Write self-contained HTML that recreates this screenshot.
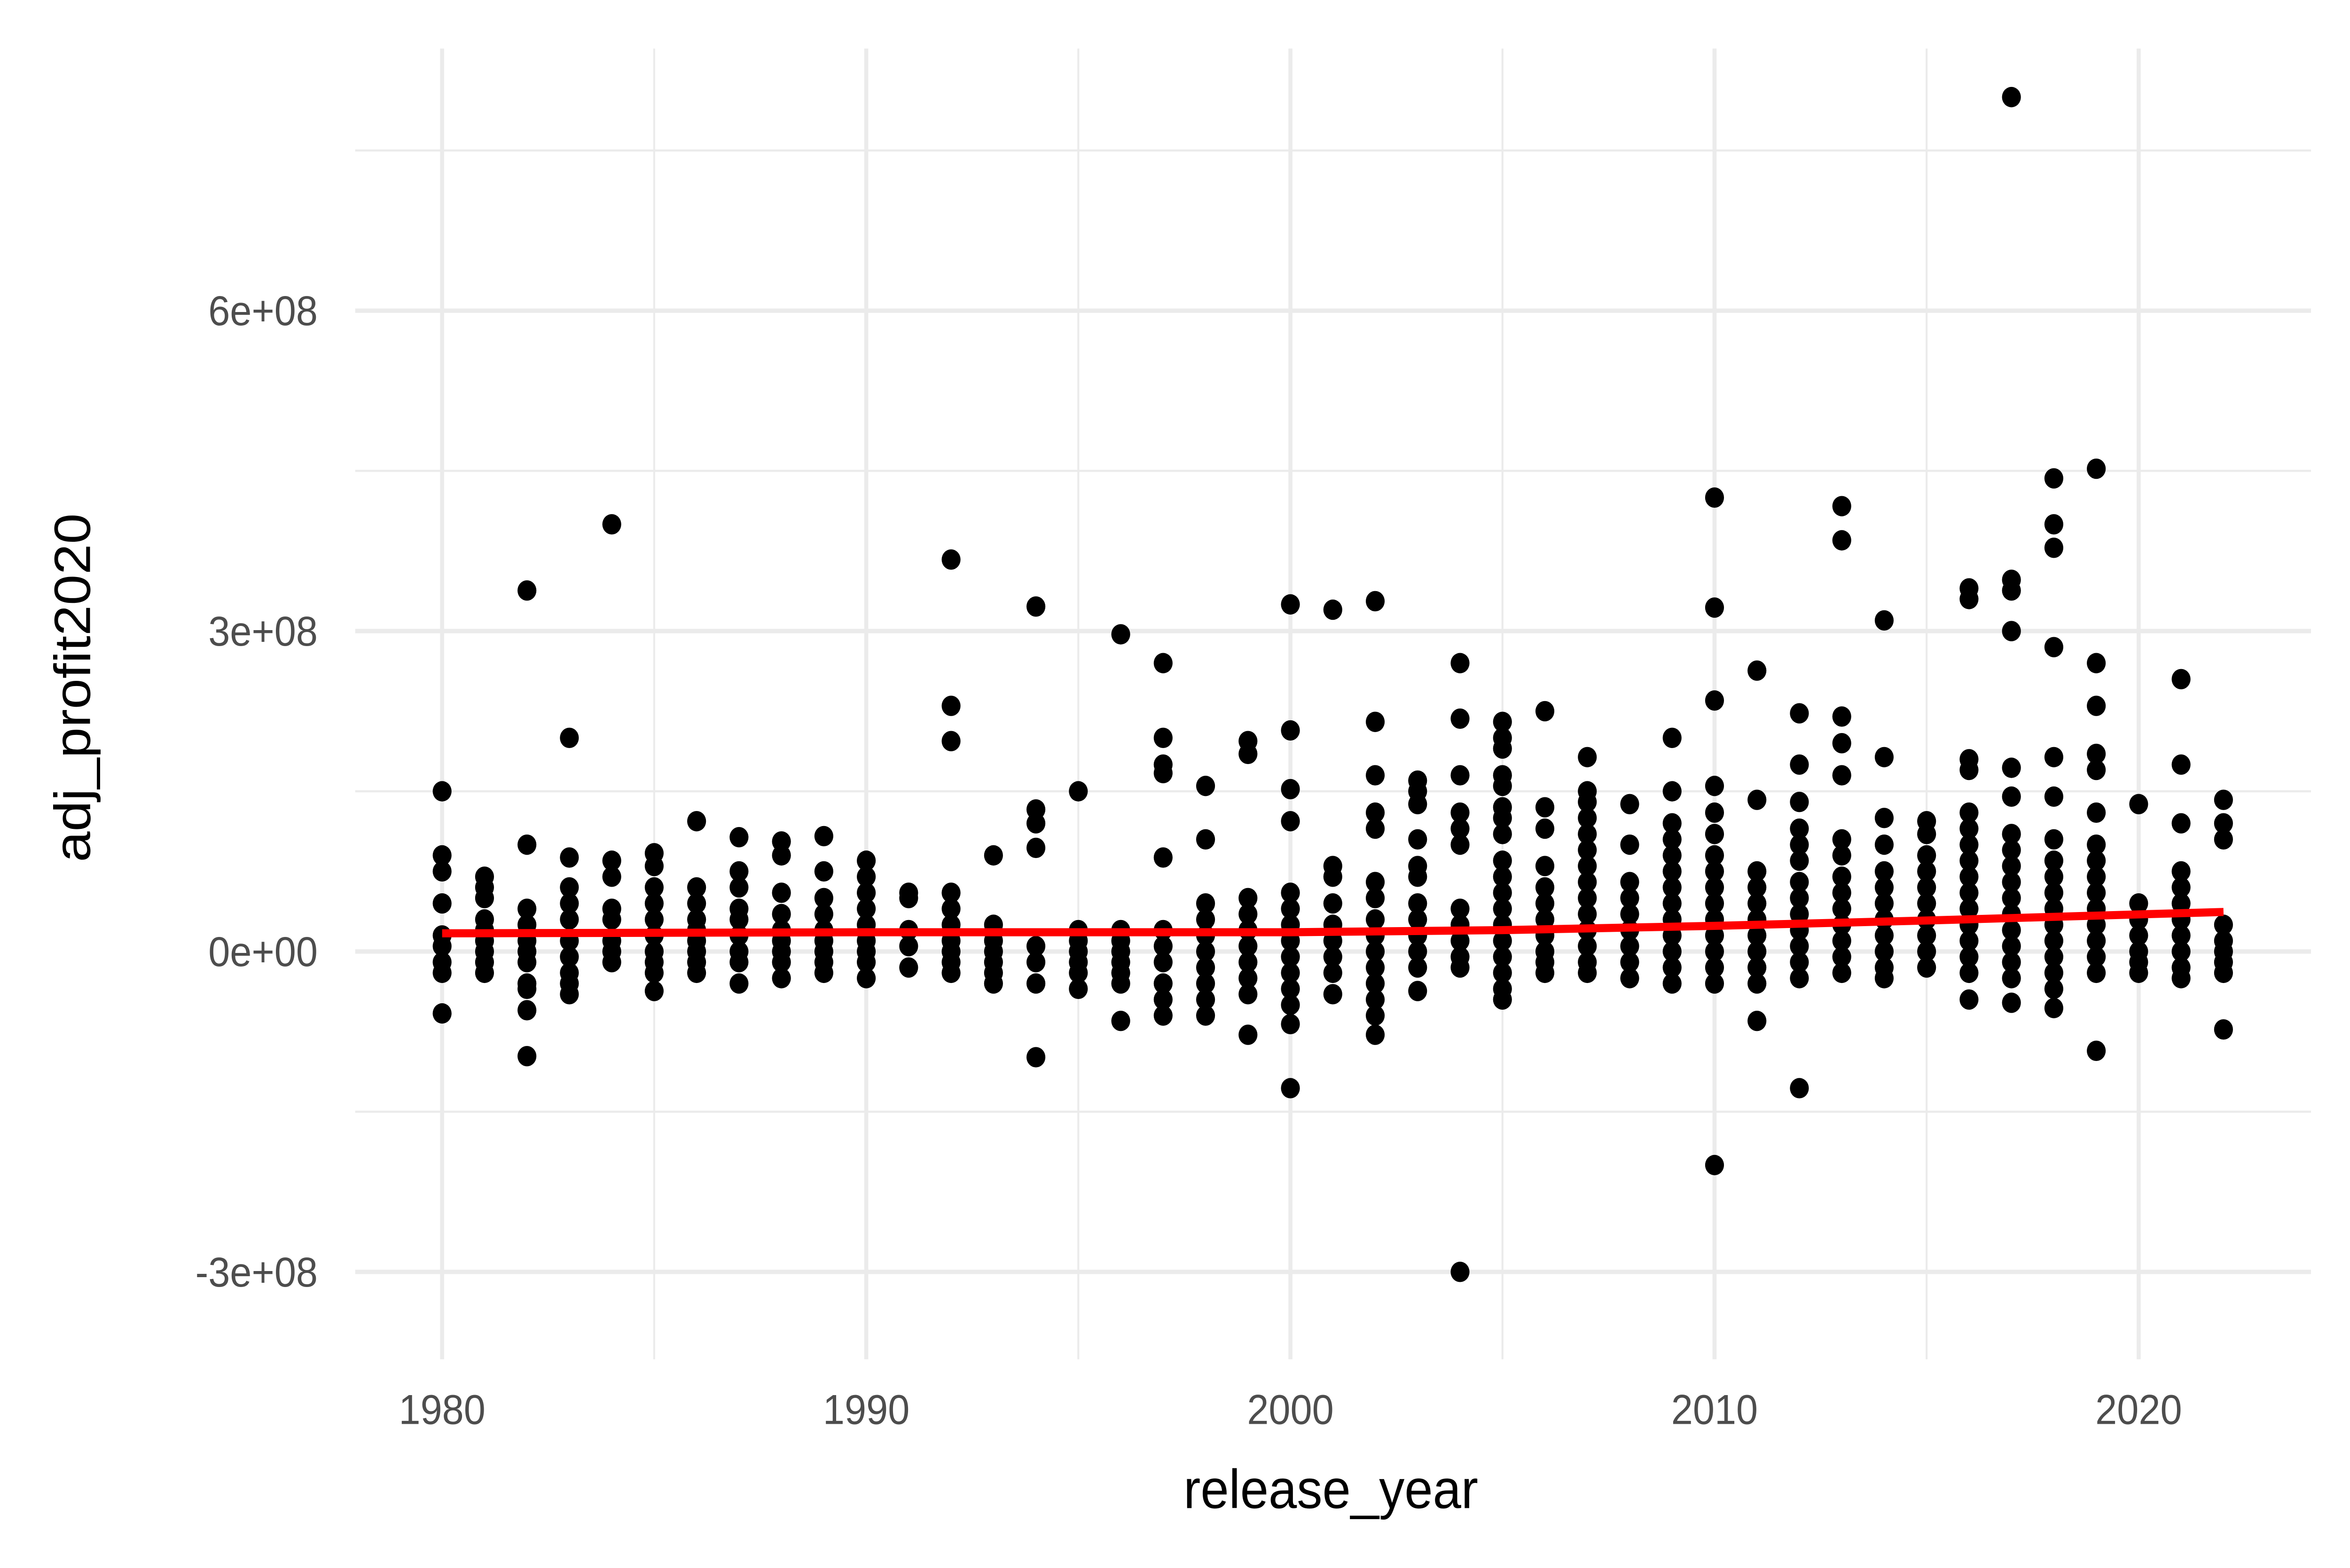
<!DOCTYPE html>
<html><head><meta charset="utf-8"><style>
html,body{margin:0;padding:0;background:#fff;width:100%;height:100%;overflow:hidden;}
svg{display:block;position:absolute;left:0;top:0;width:100vw;height:100vh;}
</style></head><body>
<svg viewBox="0 0 1568 969" preserveAspectRatio="none" xmlns="http://www.w3.org/2000/svg" font-family="Liberation Sans, Arial, sans-serif">
<rect width="1568" height="969" fill="#fff"/>
<g id="grid"></g>
<g id="points"></g>
<g id="trend"></g>
<g id="axes"></g>
<text x="888" y="932" font-size="34" text-anchor="middle" fill="#000">release_year</text>
<text transform="translate(60,425) rotate(-90)" font-size="34" text-anchor="middle" fill="#000">adj_profit2020</text>
</svg>
<script>
const years = [1980,1981,1982,1983,1984,1985,1986,1987,1988,1989,1990,1991,1992,1993,1994,1995,1996,1997,1998,1999,2000,2001,2002,2003,2004,2005,2006,2007,2008,2009,2010,2011,2012,2013,2014,2015,2016,2017,2018,2019,2020,2021,2022];
// values in units of 1e8
const profits = [
[1.5,0.9,0.75,0.45,0.15,0.05,-0.1,-0.2,-0.58],
[0.7,0.6,0.5,0.3,0.2,0.1,0,-0.1,-0.2],
[3.38,1.0,0.4,0.25,0.1,0,-0.1,-0.3,-0.35,-0.55,-0.98],
[2.0,0.88,0.6,0.45,0.3,0.1,-0.05,-0.2,-0.3,-0.4],
[4.0,0.85,0.7,0.4,0.3,0.1,0,-0.1],
[0.92,0.8,0.6,0.45,0.3,0.15,0,-0.1,-0.2,-0.37],
[1.22,0.6,0.45,0.3,0.2,0.1,0,-0.1,-0.2],
[1.07,0.75,0.6,0.4,0.3,0.15,0,-0.1,-0.3],
[1.03,0.9,0.55,0.35,0.2,0.1,0,-0.1,-0.25],
[1.08,0.75,0.5,0.35,0.2,0.1,0,-0.1,-0.2],
[0.85,0.7,0.55,0.4,0.25,0.1,0,-0.1,-0.25],
[0.55,0.5,0.2,0.05,-0.15],
[3.67,2.3,1.97,0.55,0.4,0.25,0.1,0,-0.1,-0.2],
[0.9,0.25,0.1,0,-0.1,-0.2,-0.3],
[3.23,1.33,1.2,0.97,0.05,-0.1,-0.3,-0.99],
[1.5,0.2,0.1,0,-0.1,-0.2,-0.35],
[2.97,0.2,0.1,0,-0.1,-0.2,-0.3,-0.65],
[2.7,2.0,1.75,1.67,0.88,0.2,0.05,-0.1,-0.3,-0.45,-0.6],
[1.55,1.05,0.45,0.3,0.15,0,-0.15,-0.3,-0.45,-0.6],
[1.97,1.85,0.5,0.35,0.2,0.05,-0.1,-0.25,-0.4,-0.78],
[3.25,2.07,1.52,1.22,0.55,0.4,0.25,0.1,-0.05,-0.2,-0.35,-0.5,-0.68,-1.28],
[3.2,0.8,0.7,0.45,0.25,0.1,-0.05,-0.2,-0.4],
[3.28,2.15,1.65,1.3,1.15,0.65,0.5,0.3,0.15,0,-0.15,-0.3,-0.45,-0.6,-0.78],
[1.6,1.5,1.38,1.05,0.8,0.7,0.45,0.3,0.15,0,-0.15,-0.37],
[2.7,2.18,1.65,1.3,1.15,1.0,0.4,0.25,0.1,-0.05,-0.15,-3.0],
[2.15,2.0,1.9,1.65,1.55,1.35,1.25,1.1,0.85,0.7,0.55,0.4,0.25,0.1,-0.05,-0.2,-0.35,-0.45],
[2.25,1.35,1.15,0.8,0.6,0.45,0.3,0.15,0,-0.1,-0.2],
[1.82,1.5,1.4,1.25,1.1,0.95,0.8,0.65,0.5,0.35,0.2,0.05,-0.1,-0.2],
[1.38,1.0,0.65,0.5,0.35,0.2,0.05,-0.1,-0.25],
[2.0,1.5,1.2,1.05,0.9,0.75,0.6,0.45,0.3,0.15,0,-0.15,-0.3],
[4.25,3.22,2.35,1.55,1.3,1.1,0.9,0.75,0.6,0.45,0.3,0.15,0,-0.15,-0.3,-2.0],
[2.63,1.42,0.75,0.6,0.45,0.3,0.15,0,-0.15,-0.3,-0.65],
[2.23,1.75,1.4,1.15,1.0,0.85,0.65,0.5,0.35,0.2,0.05,-0.1,-0.25,-1.28],
[4.17,3.85,2.2,1.95,1.65,1.05,0.9,0.7,0.55,0.4,0.25,0.1,-0.05,-0.2],
[3.1,1.82,1.25,1.0,0.75,0.6,0.45,0.3,0.15,0,-0.15,-0.25],
[1.22,1.1,0.9,0.75,0.6,0.45,0.3,0.15,0,-0.15],
[3.4,3.3,1.8,1.7,1.3,1.15,1.0,0.85,0.7,0.55,0.4,0.25,0.1,-0.05,-0.2,-0.45],
[8.0,3.48,3.38,3.0,1.72,1.45,1.1,0.95,0.8,0.65,0.5,0.35,0.2,0.05,-0.1,-0.25,-0.48],
[4.43,4.0,3.78,2.85,1.82,1.45,1.05,0.85,0.7,0.55,0.4,0.25,0.1,-0.05,-0.2,-0.35,-0.53],
[4.52,2.7,2.3,1.85,1.7,1.3,1.0,0.85,0.7,0.55,0.4,0.25,0.1,-0.05,-0.2,-0.93],
[1.38,0.45,0.3,0.15,0,-0.1,-0.2],
[2.55,1.75,1.2,0.75,0.6,0.45,0.3,0.15,0,-0.15,-0.25],
[1.42,1.2,1.05,0.25,0.1,0,-0.1,-0.2,-0.73]
];
const trendYears = [1980,1990,2000,2005,2010,2015,2022];
const trendValues = [0.17,0.18,0.18,0.2,0.24,0.29,0.37];
const xMajor = [1980,1990,2000,2010,2020];
const xMinor = [1985,1995,2005,2015];
const yMajor = [-3,0,3,6];
const yMinor = [-1.5,1.5,4.5,7.5];
const yLabels = ["-3e+08","0e+00","3e+08","6e+08"];

const NS="http://www.w3.org/2000/svg";
const X0=237,X1=1542,Y0=30,Y1=840;
const xs=y=>295+(y-1980)*(1427-295)/40;
const ys=v=>588-v*66;
function mk(tag,attrs,parent){const e=document.createElementNS(NS,tag);for(const k in attrs)e.setAttribute(k,attrs[k]);parent.appendChild(e);return e;}
const grid=document.getElementById('grid'),pts=document.getElementById('points'),tr=document.getElementById('trend'),ax=document.getElementById('axes');
xMinor.forEach(v=>{const l=mk('line',{x1:xs(v),x2:xs(v),y1:Y0,y2:Y1,stroke:'#ebebeb','stroke-width':1.3},grid);

});
yMinor.forEach(v=>{const l=mk('line',{x1:X0,x2:X1,y1:ys(v),y2:ys(v),stroke:'#ebebeb','stroke-width':1.3},grid);

});
xMajor.forEach(v=>{const l=mk('line',{x1:xs(v),x2:xs(v),y1:Y0,y2:Y1,stroke:'#ebebeb','stroke-width':2.7},grid);


const t=mk('text',{x:xs(v),y:880,'font-size':26,'text-anchor':'middle',fill:'#4d4d4d'},ax);t.textContent=v;

});
yMajor.forEach((v,i)=>{const l=mk('line',{x1:X0,x2:X1,y1:ys(v),y2:ys(v),stroke:'#ebebeb','stroke-width':2.7},grid);


const t=mk('text',{x:212,y:ys(v)+9,'font-size':26,'text-anchor':'end',fill:'#4d4d4d'},ax);t.textContent=yLabels[i];

});
years.forEach((yr,i)=>{profits[i].forEach(v=>{const c=mk('circle',{cx:xs(yr),cy:ys(v),r:6.3,fill:'#000'},pts);

});});
const p=mk('polyline',{points:trendYears.map((y,i)=>xs(y)+','+ys(trendValues[i])).join(' '),fill:'none',stroke:'#ff0000','stroke-width':5},tr);


</script>
</body></html>
